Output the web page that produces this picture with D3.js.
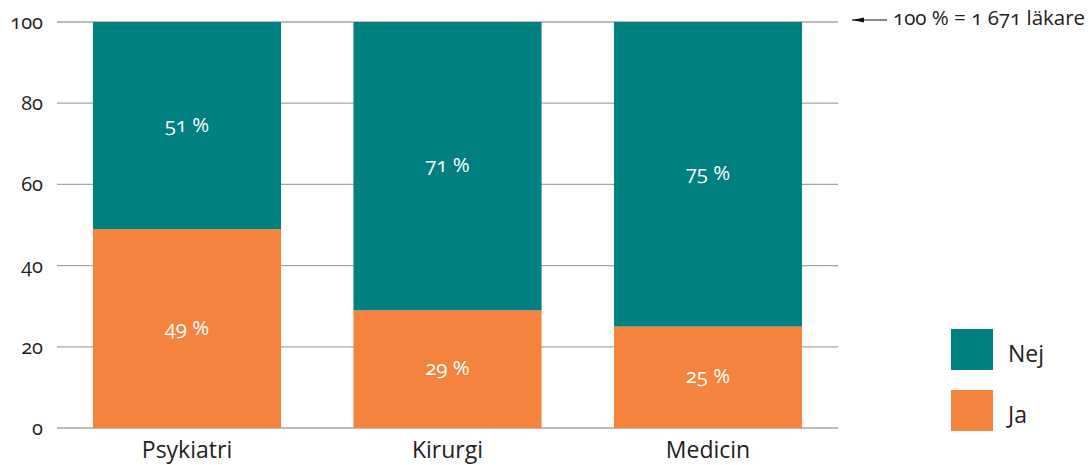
<!DOCTYPE html>
<html>
<head>
<meta charset="utf-8">
<script src="https://cdn.jsdelivr.net/npm/d3@7"></script>
<style>
  html, body { margin: 0; padding: 0; background: #fff; }
  svg text { font-family: "Open Sans", "Noto Sans", sans-serif; font-variant-numeric: oldstyle-nums; font-feature-settings: "onum" 1; }
</style>
</head>
<body>
<svg id="chart" width="1090" height="465"></svg>
<script>
// Share of doctors answering Ja / Nej, by specialty
const categories = ["Psykiatri", "Kirurgi", "Medicin"];
const jaValues = [49, 29, 25];
const nejValues = [51, 71, 75];
const yTicks = [0, 20, 40, 60, 80, 100];
const seriesNames = ["Nej", "Ja"];
const noteText = "100 % = 1 671 läkare";

const colors = { Nej: "#008080", Ja: "#f4843d" };

const svg = d3.select("#chart");

const x = d3.scaleBand()
  .domain(categories)
  .range([57, 838])
  .paddingInner(0.278)
  .paddingOuter(0.138);

const y = d3.scaleLinear().domain([0, 100]).range([428, 22]);

// Gridlines
svg.append("g")
  .selectAll("line")
  .data(yTicks)
  .join("line")
  .attr("x1", 57).attr("x2", 838)
  .attr("y1", d => y(d)).attr("y2", d => y(d))
  .attr("stroke", "#a6a6a6")
  .attr("stroke-width", 1.3);

// Y axis labels
const yAxis = d3.axisLeft(y).tickValues(yTicks).tickSize(0).tickPadding(0);
svg.append("g")
  .attr("transform", "translate(43,0)")
  .call(yAxis)
  .call(g => g.select(".domain").remove())
  .call(g => g.selectAll("text")
    .attr("font-size", 20)
    .attr("fill", "#222")
    .attr("font-family", null));

// Stacked bars
const rows = categories.map((c, i) => ({ cat: c, Ja: jaValues[i], Nej: nejValues[i] }));
const stack = d3.stack().keys(["Ja", "Nej"])(rows);

const layers = svg.append("g")
  .selectAll("g")
  .data(stack)
  .join("g")
  .attr("fill", d => colors[d.key]);

layers.selectAll("rect")
  .data(d => d)
  .join("rect")
  .attr("x", d => x(d.data.cat))
  .attr("width", x.bandwidth())
  .attr("y", d => y(d[1]))
  .attr("height", d => y(d[0]) - y(d[1]));

layers.selectAll("text")
  .data(d => d.map(s => ({ s, key: d.key })))
  .join("text")
  .attr("x", d => x(d.s.data.cat) + x.bandwidth() / 2)
  .attr("y", d => y((d.s[0] + d.s[1]) / 2))
  .attr("dy", "0.3em")
  .attr("text-anchor", "middle")
  .attr("fill", "#fff")
  .attr("font-size", 20.5)
  .text(d => d.s.data[d.key] + " %");

// Category labels
const xAxis = d3.axisBottom(x).tickSize(0).tickPadding(0);
svg.append("g")
  .attr("transform", "translate(0,458)")
  .call(xAxis)
  .call(g => g.select(".domain").remove())
  .call(g => g.selectAll("text")
    .attr("dy", 0)
    .attr("font-size", 23)
    .attr("fill", "#222")
    .attr("font-family", null));

// Total note with arrow
svg.append("line")
  .attr("x1", 887).attr("x2", 852)
  .attr("y1", 20).attr("y2", 20)
  .attr("stroke", "#111")
  .attr("stroke-width", 1.2);

svg.append("path")
  .attr("d", "M852,20 L864,17.5 L864,22.5 Z")
  .attr("fill", "#111");

svg.append("text")
  .attr("x", 893).attr("y", 25)
  .attr("font-size", 20.5)
  .attr("fill", "#222")
  .text(noteText);

// Legend
const legend = svg.append("g")
  .selectAll("g")
  .data(seriesNames)
  .join("g")
  .attr("transform", (d, i) => `translate(951,${329 + i * 61})`);

legend.append("rect")
  .attr("width", 42).attr("height", 41)
  .attr("fill", d => colors[d]);

legend.append("text")
  .attr("x", 57).attr("y", 33)
  .attr("font-size", 23)
  .attr("fill", "#222")
  .text(d => d);
</script>
</body>
</html>
